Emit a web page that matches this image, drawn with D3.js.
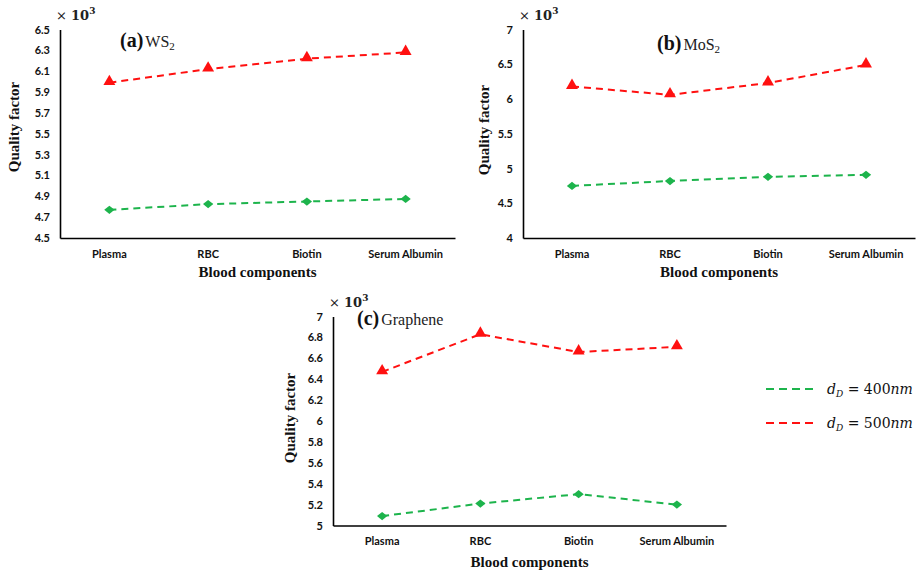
<!DOCTYPE html>
<html><head><meta charset="utf-8">
<script src="https://cdn.jsdelivr.net/npm/d3@7"></script>
<style>body{margin:0;background:#fff}svg{display:block}</style>
</head><body>
<svg id="chart" width="918" height="571"></svg>
<script>
const categories = ["Plasma", "RBC", "Biotin", "Serum Albumin"];
const ws2_400 = [4.77, 4.825, 4.85, 4.875];
const ws2_500 = [5.99, 6.12, 6.22, 6.28];
const mos2_400 = [4.75, 4.82, 4.88, 4.91];
const mos2_500 = [6.18, 6.06, 6.23, 6.49];
const gr_400 = [5.09, 5.21, 5.30, 5.20];
const gr_500 = [6.47, 6.83, 6.66, 6.71];
const ticksA = [4.5, 4.7, 4.9, 5.1, 5.3, 5.5, 5.7, 5.9, 6.1, 6.3, 6.5];
const ticksB = [4, 4.5, 5, 5.5, 6, 6.5, 7];
const ticksC = [5, 5.2, 5.4, 5.6, 5.8, 6, 6.2, 6.4, 6.6, 6.8, 7];
const legendLabels = ["400", "500"];

const GREEN = "#1db44c", RED = "#ff1010";
const svg = d3.select("#chart");

const panels = [
  {x0:60, x1:455, y0:29.5, y1:238, ticks:ticksA, s400:ws2_400, s500:ws2_500, letter:"(a)", mat:"WS", sub:"2", tx:120, ty:47, ylx:19, yly:127, xlY:277},
  {x0:523, x1:915, y0:29.5, y1:238, ticks:ticksB, s400:mos2_400, s500:mos2_500, letter:"(b)", mat:"MoS", sub:"2", tx:657, ty:50, ylx:489, yly:130, xlY:277},
  {x0:333, x1:726, y0:316.5, y1:525.5, ticks:ticksC, s400:gr_400, s500:gr_500, letter:"(c)", mat:"Graphene", sub:"", tx:357, ty:325, ylx:295, yly:418, xlY:567}
];

panels.forEach(p => {
  const g = svg.append("g");
  const x = d3.scaleBand().domain(categories).range([p.x0, p.x1]);
  const y = d3.scaleLinear().domain([p.ticks[0], p.ticks[p.ticks.length-1]]).range([p.y1, p.y0]);
  const cx = d => x(d) + x.bandwidth()/2;

  const ya = g.append("g").attr("transform", `translate(${p.x0},0)`)
    .call(d3.axisLeft(y).tickValues(p.ticks).tickSize(0).tickPadding(10).tickFormat(d3.format("")));
  ya.select(".domain").attr("stroke", "#000").attr("stroke-width", 1.6);
  ya.selectAll("text").attr("font-family", "Lato, 'Open Sans', sans-serif").attr("font-weight", "bold")
    .attr("font-size", 11).attr("fill", "#111");

  const xa = g.append("g").attr("transform", `translate(0,${p.y1})`)
    .call(d3.axisBottom(x).tickSize(0).tickPadding(12));
  xa.select(".domain").attr("stroke", "#000").attr("stroke-width", 1.6);
  xa.selectAll("text").attr("font-family", "Lato, 'Open Sans', sans-serif").attr("font-weight", "bold")
    .attr("font-size", 11).attr("fill", "#111");

  const m = g.append("text").attr("x", p.x0 - 4).attr("y", p.y0 - 10)
    .attr("font-family", "'DejaVu Serif', serif").attr("font-size", 13).attr("fill", "#222");
  m.append("tspan").text("× ");
  m.append("tspan").attr("font-weight", "bold").text("10");
  m.append("tspan").attr("dy", -6).attr("font-size", 9).attr("font-weight", "bold").text("3");

  const t = g.append("text").attr("x", p.tx).attr("y", p.ty)
    .attr("font-family", "'Liberation Serif', 'Times New Roman', serif").attr("fill", "#111");
  t.append("tspan").attr("font-weight", "bold").attr("font-size", 20).text(p.letter);
  t.append("tspan").attr("font-size", 16).attr("fill", "#222").attr("dx", 2).text(p.mat);
  if (p.sub) t.append("tspan").attr("font-size", 11).attr("dy", 3).text(p.sub);

  g.append("text").attr("x", (p.x0 + p.x1)/2).attr("y", p.xlY).attr("text-anchor", "middle")
    .attr("font-family", "'Liberation Serif', 'Times New Roman', serif").attr("font-weight", "bold")
    .attr("font-size", 15).attr("fill", "#111").text("Blood components");
  g.append("text").attr("transform", `translate(${p.ylx},${p.yly}) rotate(-90)`).attr("text-anchor", "middle")
    .attr("font-family", "'Liberation Serif', 'Times New Roman', serif").attr("font-weight", "bold")
    .attr("font-size", 15).attr("fill", "#111").text("Quality factor");

  const line = d3.line().x((d,i) => cx(categories[i])).y(d => y(d));
  [[p.s400, GREEN, "diamond"], [p.s500, RED, "triangle"]].forEach(([vals, col, kind]) => {
    g.append("path").datum(vals).attr("d", line).attr("fill", "none").attr("stroke", col)
      .attr("stroke-width", 2).attr("stroke-dasharray", "7,5");
    g.selectAll(null).data(vals).enter().append("path")
      .attr("d", kind === "diamond" ? d3.symbol().type(d3.symbolSquare).size(34) : d3.symbol().type(d3.symbolTriangle).size(62))
      .attr("transform", (d,i) => `translate(${cx(categories[i])},${y(d)})` + (kind === "diamond" ? " scale(1.25,1) rotate(45)" : " translate(0,-1)"))
      .attr("fill", col);
  });
});

const lg = svg.append("g");
const ly = d3.scaleOrdinal().domain(legendLabels).range([389, 423]);
const lcol = d3.scaleOrdinal().domain(legendLabels).range([GREEN, RED]);
legendLabels.forEach(l => {
  lg.append("line").attr("x1", 766).attr("x2", 817).attr("y1", ly(l)).attr("y2", ly(l))
    .attr("stroke", lcol(l)).attr("stroke-width", 2).attr("stroke-dasharray", "8,5");
  const tx = lg.append("text").attr("x", 827).attr("y", ly(l) + 5)
    .attr("font-family", "'DejaVu Serif', serif").attr("font-size", 14).attr("fill", "#111");
  tx.append("tspan").attr("font-style", "italic").text("d");
  tx.append("tspan").attr("font-style", "italic").attr("font-size", 9).attr("dy", 3).text("D");
  tx.append("tspan").attr("dy", -3).text(" = " + l);
  tx.append("tspan").attr("font-style", "italic").text("nm");
});
</script>
</body></html>
